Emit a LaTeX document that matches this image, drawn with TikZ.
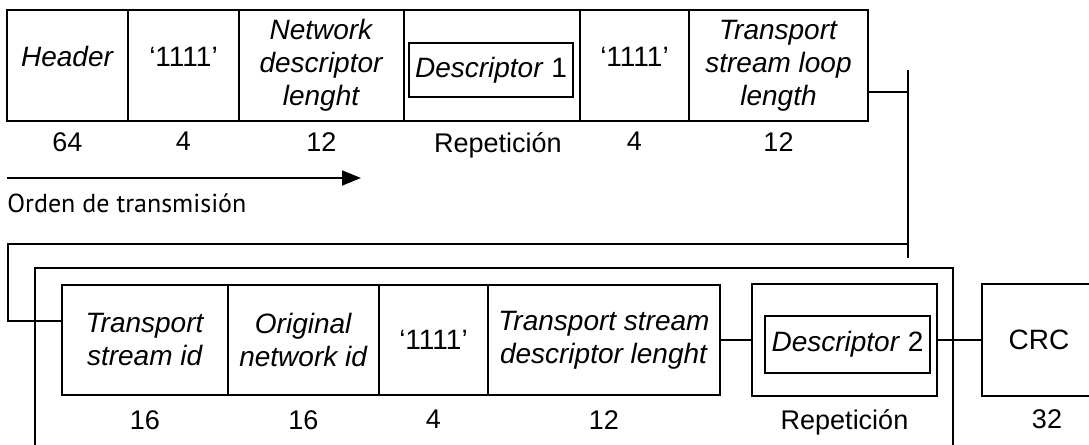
\documentclass[tikz,border=0pt]{standalone}
\usepackage{fontspec}
\setmainfont{Liberation Sans}
\newfontfamily\ordenfont{PT Sans}
\usepackage{tikz}
\usetikzlibrary{arrows.meta, positioning, calc}

\begin{document}
\begin{tikzpicture}[
  x=0.5pt, y=-0.5pt,
  every node/.style={font=\fontsize{14}{16.5}\selectfont},
  field/.style={draw, line width=0.9pt, outer sep=0pt, inner sep=0pt, align=center, minimum height=55.5pt},
  field2/.style={field, minimum height=55pt},
  inbox/.style={draw, line width=0.9pt, outer sep=0pt, inner sep=0pt, align=center},
  num/.style={inner sep=0pt, font=\fontsize{13.5}{14}\selectfont},
  raised/.style={text depth=9pt},
  link/.style={line width=0.9pt}
]
  \useasboundingbox (0,0) rectangle (1089,445);
  \clip (0,0) rectangle (1089,445);

  % first part of the table
  \node[field, raised, minimum width=60.5pt, anchor=north west] (hdr) at (7,10) {\textit{Header}};
  \node[field, raised, minimum width=55.5pt, right=0pt of hdr] (ones1) {`1111'};
  \node[field, minimum width=82.5pt, right=0pt of ones1] (ndl) {\textit{Network}\\ \textit{descriptor}\\ \textit{lenght}};
  \node[field, minimum width=88pt, right=0pt of ndl] (rep1) {};
  \node[inbox, minimum width=82pt, minimum height=27pt] (desc1) at (491,70) {\textit{Descriptor} 1};
  \node[field, raised, minimum width=54.5pt, right=0pt of rep1] (ones2) {`1111'};
  \node[field, minimum width=89.5pt, right=0pt of ones2] (tsll) {\textit{Transport}\\ \textit{stream loop}\\ \textit{length}};

  \foreach \n/\t in {hdr/64, ones1/4, ndl/12, ones2/4, tsll/12}
    \node[num, below=5.5pt of \n] (n\n) {\t};
  \node[num, below=5.5pt of rep1, xshift=3pt] (nrep1) {Repetición};

  \coordinate (ordA) at (7,178);
  \coordinate (ordB) at (361,178);
  \draw[link, -{Triangle[length=9.5pt, width=7.5pt]}] (ordA) -- (ordB);
  \node[anchor=base west, inner sep=0pt, font={\fontsize{13}{16}\ordenfont}] (orden) at (7,212) {Orden de transmisión};

  % second part of the table
  \node[field2, minimum width=83pt, anchor=north west] (tsid) at (62,285) {\textit{Transport}\\ \textit{stream id}};
  \node[field2, minimum width=75.5pt, right=0pt of tsid] (onid) {\textit{Original}\\ \textit{network id}};
  \node[field2, minimum width=54.5pt, right=0pt of onid] (ones3) {`1111'};
  \node[field2, minimum width=116pt, right=0pt of ones3] (tsdl) {\textit{Transport stream}\\ \textit{descriptor lenght}};
  \node[field, minimum width=92.5pt, minimum height=56pt, right=16pt of tsdl] (rep2) {};
  \node[inbox, minimum width=82.5pt, minimum height=28.5pt] (desc2) at (847.5,344.5) {\textit{Descriptor} 2};
  \node[field, minimum width=57pt, minimum height=56pt, right=22.5pt of rep2] (crc) {CRC};

  \foreach \n/\t in {tsid/16, onid/16, ones3/4, tsdl/12}
    \node[num, below=7.5pt of \n] (n\n) {\t};
  \node[num, below=6.5pt of rep2] (nrep2) {Repetición};
  \node[num, below=6.5pt of crc, xshift=4pt] (ncrc) {32};

  \draw[link] (tsdl.east) -- (tsdl.east -| rep2.west);
  \draw[link] (rep2.east) -- (rep2.east -| crc.west);

  % loop from the first part to the second
  \coordinate (busT) at (908,70);
  \coordinate (busB) at (908,258);
  \draw[link] (busT) -- (busB);
  \draw[link] (tsll.east |- 0,92) -- (busT |- 0,92);
  \draw[link] (busB |- 0,244) -- (8,244) -- (8,321) -- (tsid.west |- 0,321);

  % repetition frame
  \coordinate (frmL) at (35,450);
  \coordinate (frmR) at (953,450);
  \draw[link] (frmL) -- (frmL |- 0,268) -- (frmR |- 0,268) -- (frmR);
\end{tikzpicture}
\end{document}
